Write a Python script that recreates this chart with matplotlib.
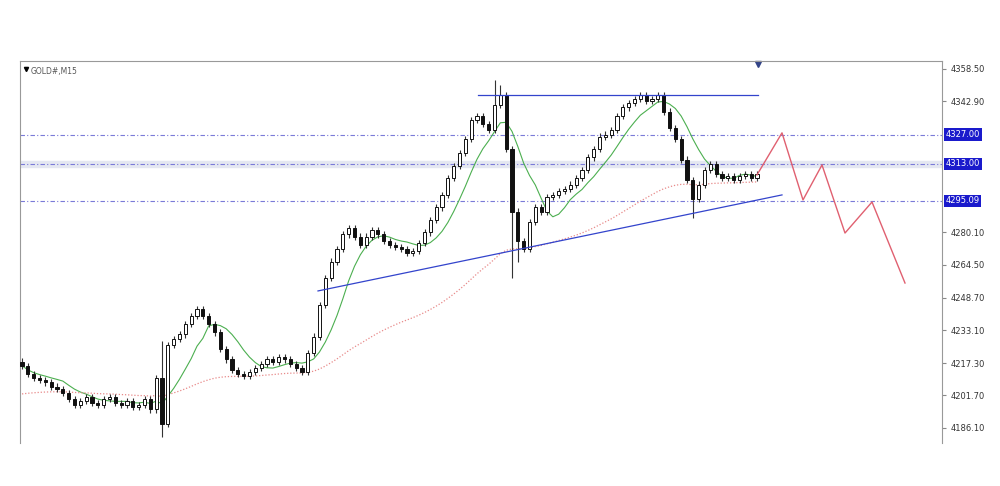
import matplotlib
matplotlib.use("Agg")
import matplotlib.pyplot as plt
import numpy as np
import pandas as pd

closes = [4216,4212,4210,4209,4208,4206,4205,4203,4200,4197,4199,4201,4198,4197,4200,4201,4198,4197,4199,4196,4197,4200,4195,4210,4188,4226,4229,4231,4236,4240,4243,4240,4236,4232,4224,4219,4214,4212,4211,4213,4215,4217,4219,4218,4220,4219,4217,4215,4213,4222,4230,4245,4258,4266,4272,4279,4282,4278,4274,4278,4281,4279,4276,4274,4273,4272,4270,4271,4275,4280,4286,4292,4298,4306,4312,4318,4325,4334,4336,4332,4329,4341,4346,4320,4290,4276,4272,4285,4292,4290,4297,4298,4300,4301,4303,4306,4310,4316,4320,4326,4327,4329,4336,4340,4342,4344,4346,4343,4344,4346,4338,4330,4325,4315,4305,4296,4303,4310,4313,4308,4306,4307,4305,4307,4308,4306,4308]
first_open = 4218
special_high = {81: 4353, 82: 4351, 24: 4228}
special_low = {84: 4258, 85: 4266, 115: 4287, 24: 4182}
levels = [4327.00, 4313.00, 4295.09]
level_labels = ["4327.00", "4313.00", "4295.09"]
yticks = [4358.50, 4342.90, 4280.10, 4264.50, 4248.70, 4233.10, 4217.30, 4201.70, 4186.10]
top_line = (4346.0, 4346.0)
trend_y = (4251.9, 4298.0)
proj_y = [4307.6, 4327.8, 4295.6, 4312.4, 4279.7, 4294.6, 4255.7]
long_ma_seed = 4202.0

n = len(closes)
opens = [first_open] + closes[:-1]
px = 735 / (n - 1)
def xp(p):
    return (p - 22) / px

fig = plt.figure(figsize=(10, 4.86), dpi=100)
ax = fig.add_axes([0.020, 0.0885, 0.922, 0.786])
ax.set_xlim(xp(20), xp(942))
ax.set_ylim(4178.9, 4362.3)

s = pd.Series(closes, dtype=float)
ma_s = s.rolling(8, min_periods=1).mean()
ma_l = pd.Series([long_ma_seed] + closes, dtype=float).ewm(span=60, adjust=False).mean()[1:]
ax.plot(range(n), ma_s, color="#4caf50", lw=0.8, zorder=2)
ax.plot(range(n), ma_l, color="#e88a8a", lw=0.9, ls=(0, (1, 1.5)), zorder=2)

for i in range(n):
    o, c = opens[i], closes[i]
    hi = special_high.get(i, max(o, c) + 1.5)
    lo = special_low.get(i, min(o, c) - 1.5)
    ax.vlines(i, lo, hi, color="#333333", lw=0.8, zorder=3)
    b = min(o, c); h = max(abs(c - o), 0.4)
    ax.bar(i, h, bottom=b, width=0.55, color="white" if c >= o else "#111111",
           edgecolor="#111111", lw=0.7, zorder=4)

for lv in levels:
    ax.axhline(lv, color="#7a7ad8", lw=0.8, ls=(0, (4, 2, 1, 2)), zorder=1)
ax.axhspan(4311.5, 4314.5, color="#e4e7f1", zorder=0)
ax.plot([xp(478), xp(758)], top_line, color="#3344cc", lw=0.9, zorder=5)
ax.plot([xp(318), xp(782)], trend_y, color="#3344cc", lw=0.9, zorder=5)
proj_x = [xp(p) for p in [757, 782, 803, 822, 845, 872, 905]]
ax.plot(proj_x, proj_y, color="#e06070", lw=1.0, zorder=5)
ax.plot([xp(758)], [4361], marker="v", color="#334488", ms=4, clip_on=False)

ax.yaxis.tick_right()
ax.set_yticks(yticks)
ax.set_yticklabels([f"{t:.2f}" for t in yticks], fontsize=6, color="#333333")
ax.tick_params(axis="y", length=3, color="#888888", pad=3)
ax.set_xticks([])
for lv, lab in zip(levels, level_labels):
    ax.text(1.004, (lv - 4178.9) / (4362.3 - 4178.9), lab, transform=ax.transAxes,
            fontsize=6, color="white", va="center", ha="left",
            bbox=dict(boxstyle="square,pad=0.2", fc="#1a1acc", ec="none"))
for sp in ["left", "top", "right"]:
    ax.spines[sp].set_color("#999999")
ax.spines["bottom"].set_visible(False)
ax.text(0.012, 0.985, "GOLD#,M15", transform=ax.transAxes, fontsize=5.5,
        color="#555555", va="top")
ax.plot([0.006], [0.98], marker="v", color="black", ms=3, transform=ax.transAxes)
fig.savefig("out.png", dpi=100, facecolor="white")
